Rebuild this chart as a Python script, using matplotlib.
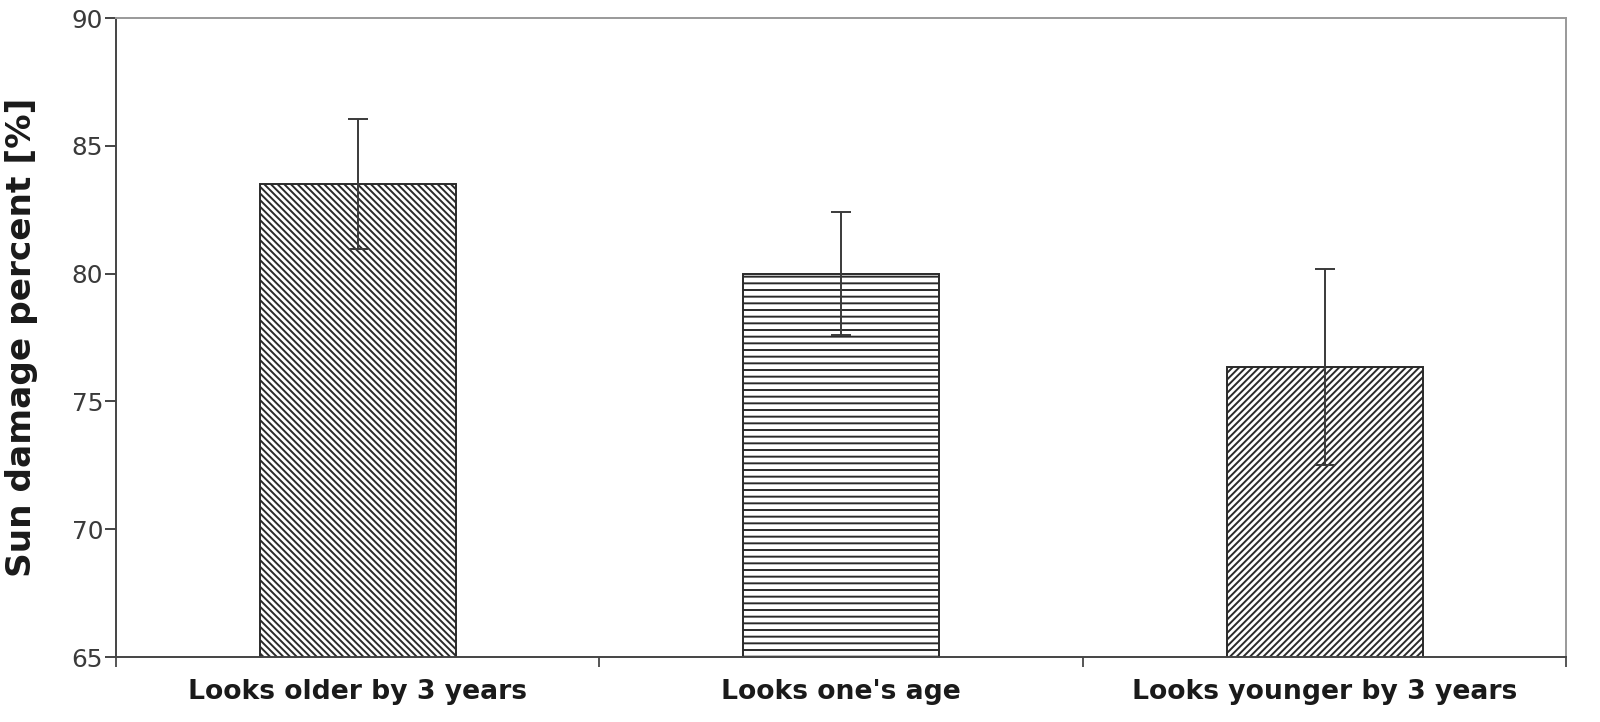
import matplotlib
matplotlib.use("Agg")
import matplotlib.pyplot as plt
import numpy as np


CATEGORIES = ["Looks older by 3 years", "Looks one's age", "Looks younger by 3 years"]
SUN_DAMAGE = [83.5, 80.0, 76.35]
ERRORS = [2.55, 2.4, 3.85]
HATCHES = ["\\" * 10, "-" * 5, "/" * 10]

Y_TICKS = [65, 70, 75, 80, 85, 90]


def main():
    plt.rcParams["font.family"] = ["DejaVu Sans"]
    plt.rcParams["hatch.linewidth"] = 0.7
    plt.rcParams["hatch.color"] = "#222222"

    fig = plt.figure(figsize=(8, 3.61), dpi=200)
    ax = fig.add_axes([0.0725, 0.090, 0.9065, 0.885])

    x = np.arange(len(CATEGORIES))
    bars = ax.bar(
        x,
        SUN_DAMAGE,
        width=0.405,
        color="white",
        edgecolor="#2a2a2a",
        linewidth=0.7,
        zorder=2,
    )
    for bar, hatch in zip(bars, HATCHES):
        bar.set_hatch(hatch)

    ax.errorbar(
        x,
        SUN_DAMAGE,
        yerr=ERRORS,
        fmt="none",
        ecolor="#3a3a3a",
        elinewidth=0.7,
        capsize=3.6,
        capthick=0.7,
        zorder=3,
    )

    ax.set_xlim(-0.5, 2.5)
    ax.set_ylim(65, 90)
    ax.set_yticks(Y_TICKS)
    ax.set_yticklabels([str(t) for t in Y_TICKS], fontsize=8.9, color="#3a3a3a")
    ax.tick_params(axis="y", direction="out", length=3.8, width=0.7,
                   color="#444444", pad=0.8)

    ax.set_xticks([-0.5, 0.5, 1.5, 2.5])
    ax.set_xticklabels([])
    ax.tick_params(axis="x", which="major", direction="out", length=3.5,
                   width=0.7, color="#555555")
    ax.set_xticks(x, minor=True)
    ax.set_xticklabels(CATEGORIES, minor=True, fontsize=9.6,
                       fontweight="bold", color="#1a1a1a")
    ax.tick_params(axis="x", which="minor", length=0, pad=8)

    ax.set_ylabel("Sun damage percent [%]", fontsize=12.4, fontweight="bold",
                  color="#1a1a1a")
    ax.yaxis.set_label_coords(-0.054, 0.5)

    for side in ["left", "bottom"]:
        ax.spines[side].set_color("#444444")
        ax.spines[side].set_linewidth(0.7)
    for side in ["top", "right"]:
        ax.spines[side].set_color("#999999")
        ax.spines[side].set_linewidth(0.7)

    fig.savefig("out.png", dpi=200)
    plt.close(fig)


if __name__ == "__main__":
    main()
